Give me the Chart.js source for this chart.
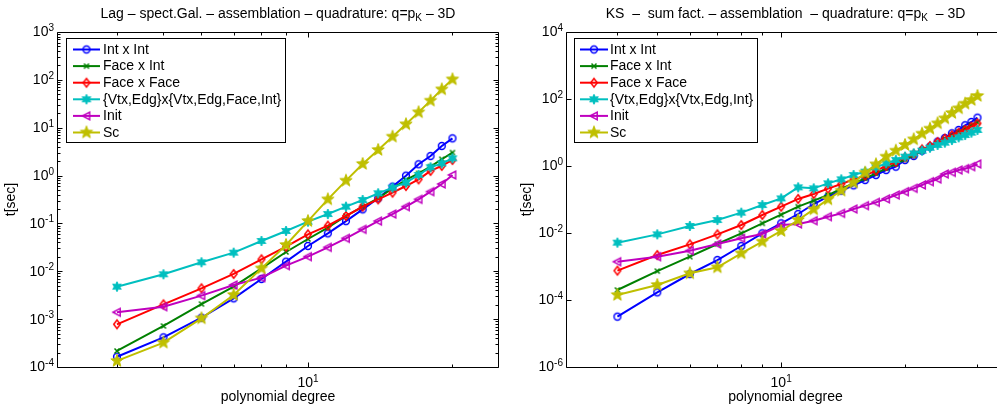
<!DOCTYPE html>
<html><head><meta charset="utf-8">
<script src="https://cdn.jsdelivr.net/npm/chart.js@4/dist/chart.umd.min.js"></script>
<style>
html,body{margin:0;padding:0;background:#fff;overflow:hidden;width:997px;height:414px;position:relative;}
#c1{position:absolute;left:0;top:0;}
#c2{position:absolute;left:500px;top:0;}
</style></head><body>
<canvas id="c1" width="500" height="414" style="width:500px;height:414px"></canvas>
<canvas id="c2" width="510" height="414" style="width:510px;height:414px"></canvas>
<script>
// ---------- data: left chart (Lag – spect.Gal.) ----------
const lagDegrees = [4,5,6,7,8,9,10,11,12,13,14,15,16,17,18,19,20];
const lagIntInt   = [1.64e-4,4.17e-4,1.07e-3,2.72e-3,6.9e-3,0.0159,0.0338,0.0621,0.112,0.197,0.335,0.587,0.995,1.72,2.56,4.15,6.0];
const lagFaceInt  = [2.16e-4,7.2e-4,2.07e-3,4.8e-3,0.0115,0.0253,0.0473,0.0816,0.143,0.224,0.335,0.542,0.81,1.11,1.54,2.19,3.02];
const lagFaceFace = [7.8e-4,2.04e-3,4.41e-3,8.8e-3,0.0178,0.0327,0.0592,0.0899,0.143,0.224,0.319,0.44,0.605,0.835,1.25,1.59,2.12];
const lagVtxEdg   = [4.77e-3,8.65e-3,0.0154,0.0245,0.043,0.0695,0.109,0.157,0.224,0.309,0.426,0.559,0.711,1.03,1.49,1.8,2.29];
const lagInit     = [1.39e-3,1.82e-3,3.1e-3,5.18e-3,7.36e-3,0.0131,0.0202,0.0316,0.0488,0.0753,0.112,0.157,0.224,0.319,0.461,0.667,1.03];
const lagSc       = [1.34e-4,3.23e-4,1.04e-3,3.2e-3,0.0115,0.0355,0.112,0.319,0.783,1.75,3.43,6.5,11.8,21.0,36.8,63.4,102.6];
const lagLabels = ['Int x Int','Face x Int','Face x Face','{Vtx,Edg}x{Vtx,Edg,Face,Int}','Init','Sc'];

// ---------- data: right chart (KS – sum fact.) ----------
const ksDegrees = [4,5,6,7,8,9,10,11,12,13,14,15,16,17,18,19,20,21,22,23,24,25,26,27,28,29,30];
const ksIntInt   = [3.18e-5,1.69e-4,5.97e-4,1.56e-3,4.09e-3,9.77e-3,0.0194,0.0369,0.0734,0.121,0.184,0.265,0.382,0.538,0.759,0.955,1.51,1.99,2.87,3.78,5.32,6.85,9.44,11.9,16.4,20.6,27.7];
const ksFaceInt  = [1.99e-4,7.3e-4,1.96e-3,4.69e-3,9.77e-3,0.0194,0.0352,0.0611,0.0923,0.136,0.211,0.303,0.428,0.604,0.851,1.15,1.58,2.08,2.87,3.78,4.97,6.39,8.22,10.4,13.0,16.4,20.1];
const ksFaceFace = [7.5e-4,2.2e-3,4.59e-3,9.1e-3,0.0173,0.0345,0.0611,0.104,0.146,0.211,0.29,0.4,0.514,0.726,1.0,1.32,1.81,2.28,3.14,3.95,5.2,6.54,8.22,9.89,11.9,14.9,18.8];
const ksVtxEdg   = [5.14e-3,9.1e-3,0.0162,0.0244,0.0405,0.0685,0.108,0.231,0.215,0.303,0.4,0.538,0.677,0.912,1.2,1.51,1.9,2.39,2.87,3.52,4.24,4.97,5.97,7.17,8.42,9.89,11.9];
const ksInit     = [1.39e-3,1.96e-3,2.97e-3,4.69e-3,6.93e-3,9.33e-3,0.0173,0.0186,0.0233,0.0307,0.0386,0.052,0.0655,0.0822,0.104,0.136,0.171,0.215,0.271,0.34,0.409,0.577,0.647,0.759,0.832,0.955,1.15];
const ksSc       = [1.41e-4,2.81e-4,6.25e-4,9.45e-4,2.47e-3,5.51e-3,0.0115,0.0244,0.0508,0.101,0.184,0.318,0.632,1.12,1.9,2.87,4.24,6.25,9.23,13.0,18.8,26.5,38.2,52.6,72.6,93.3,123];
const ksLabels = ['Int x Int','Face x Int','Face x Face','{Vtx,Edg}x{Vtx,Edg,Int}','Init','Sc'];

// ---------- tick values ----------
const lagXTicks = [4,5,6,7,8,9,10,20];
const ksXTicks  = [4,5,6,7,8,9,10,20,30];
const lagYExps  = [-4,-3,-2,-1,0,1,2,3];
const ksYExps   = [-6,-4,-2,0,2,4];

// ---------- styles ----------
const FONT = '"Liberation Sans", Arial, Helvetica, sans-serif';
const STYLE = [
  {color:'#0000FF', marker:'circle'},
  {color:'#008000', marker:'x'},
  {color:'#FF0000', marker:'diamond'},
  {color:'#00BFBF', marker:'hexagram'},
  {color:'#BF00BF', marker:'triLeft'},
  {color:'#BFBF00', marker:'pentagram'}
];

function starPath(g, n, ro, ri) {
  for (let i = 0; i < 2*n; i++) {
    const r = i % 2 === 0 ? ro : ri;
    const a = -Math.PI/2 + i*Math.PI/n;
    const px = r*Math.cos(a), py = r*Math.sin(a);
    if (i === 0) g.moveTo(px, py); else g.lineTo(px, py);
  }
  g.closePath();
}
function makeMarker(kind, color) {
  const s = 18; const c = document.createElement('canvas'); c.width = s; c.height = s;
  const g = c.getContext('2d'); g.translate(s/2, s/2);
  g.strokeStyle = color; g.fillStyle = color; g.lineWidth = 1.5;
  g.beginPath();
  if (kind === 'circle') { g.arc(0,0,3.4,0,2*Math.PI); g.stroke(); }
  else if (kind === 'x') { g.moveTo(-2.5,-2.5); g.lineTo(2.5,2.5); g.moveTo(2.5,-2.5); g.lineTo(-2.5,2.5); g.stroke(); }
  else if (kind === 'diamond') { g.moveTo(0,-4.2); g.lineTo(3.3,0); g.lineTo(0,4.2); g.lineTo(-3.3,0); g.closePath(); g.stroke(); }
  else if (kind === 'triLeft') { g.moveTo(-4,0); g.lineTo(3.2,-3.8); g.lineTo(3.2,3.8); g.closePath(); g.stroke(); }
  else if (kind === 'hexagram') { starPath(g,6,5,2.6); g.fill(); g.lineWidth=1; g.stroke(); }
  else if (kind === 'pentagram') { starPath(g,5,6.5,2.7); g.fill(); g.lineWidth=1; g.stroke(); }
  return c;
}
const MARKERS = STYLE.map(s => makeMarker(s.marker, s.color));

function pts(deg, vals) { return deg.map((d,i) => ({x:d, y:vals[i]})); }
function makeDatasets(deg, seriesList, labels) {
  return seriesList.map((vals,i) => ({
    label: labels[i], data: pts(deg, vals),
    borderColor: STYLE[i].color, backgroundColor: STYLE[i].color,
    borderWidth: 2, pointStyle: MARKERS[i], pointRadius: 4, tension: 0,
    order: seriesList.length - 1 - i
  }));
}

function drawRich(ctx, segs, cx, y) {
  let total = 0;
  segs.forEach(s => { ctx.font = s.size+'px '+FONT; s.w = ctx.measureText(s.t).width; total += s.w; });
  let x = cx - total/2;
  ctx.textAlign = 'left'; ctx.textBaseline = 'alphabetic';
  segs.forEach(s => { ctx.font = s.size+'px '+FONT; ctx.fillText(s.t, x, y + (s.dy||0)); x += s.w; });
}
function powLabel(ctx, exp, x, y, align) {
  ctx.font = '14px '+FONT; const w1 = ctx.measureText('10').width;
  ctx.font = '10px '+FONT; const w2 = ctx.measureText(String(exp)).width;
  let x0 = align === 'right' ? x - w1 - w2 : x - (w1+w2)/2;
  ctx.textAlign = 'left';
  ctx.font = '14px '+FONT; ctx.textBaseline = 'middle'; ctx.fillText('10', x0, y+0.5);
  ctx.font = '10px '+FONT; ctx.textBaseline = 'alphabetic'; ctx.fillText(String(exp), x0 + w1, y - 1);
}

function matlabPlugin(cfg) {
  return {
    id: 'matlabAxes',
    afterDraw(chart) {
      const ctx = chart.ctx, a = chart.chartArea, xs = chart.scales.x, ys = chart.scales.y;
      ctx.save();
      ctx.fillStyle = '#000'; ctx.strokeStyle = '#000'; ctx.lineWidth = 1;
      const L = Math.round(a.left)+0.5, R = Math.round(a.right)-0.5, T = Math.round(a.top)+0.5, B = Math.round(a.bottom)+0.5;
      ctx.beginPath();
      ctx.moveTo(L,T); ctx.lineTo(R,T); ctx.lineTo(R,B); ctx.lineTo(L,B); ctx.closePath();
      ctx.stroke();
      // x ticks
      ctx.beginPath();
      cfg.xTicks.forEach(v => {
        const px = Math.round(xs.getPixelForValue(v))+0.5;
        const len = (v === 10) ? 5 : 3;
        ctx.moveTo(px, B); ctx.lineTo(px, B-len);
        ctx.moveTo(px, T); ctx.lineTo(px, T+len);
      });
      // y ticks
      cfg.yExps.forEach(e => {
        const py = Math.round(ys.getPixelForValue(Math.pow(10,e)))+0.5;
        ctx.moveTo(L, py); ctx.lineTo(L+5, py);
        ctx.moveTo(R, py); ctx.lineTo(R-5, py);
        if (cfg.yMinor && e < cfg.yExps[cfg.yExps.length-1]) {
          for (let k = 2; k <= 9; k++) {
            const pm = Math.round(ys.getPixelForValue(k*Math.pow(10,e)))+0.5;
            ctx.moveTo(L, pm); ctx.lineTo(L+3, pm);
            ctx.moveTo(R, pm); ctx.lineTo(R-3, pm);
          }
        }
      });
      ctx.stroke();
      // tick labels
      cfg.yExps.forEach(e => powLabel(ctx, e, a.left - 3, ys.getPixelForValue(Math.pow(10,e)), 'right'));
      powLabel(ctx, 1, xs.getPixelForValue(10), 383, 'center');
      // axis titles
      ctx.font = '14px '+FONT; ctx.textAlign = 'center'; ctx.textBaseline = 'middle';
      ctx.fillText('polynomial degree', (a.left+a.right)/2, 397);
      ctx.save(); ctx.translate(cfg.yTitleX, (a.top+a.bottom)/2); ctx.rotate(-Math.PI/2);
      ctx.fillText('t[sec]', 0, 0); ctx.restore();
      // title
      drawRich(ctx, cfg.title, (a.left+a.right)/2, 18);
      // legend
      const lg = cfg.legend;
      ctx.fillStyle = '#fff'; ctx.fillRect(lg.x, lg.y, lg.w, lg.h);
      ctx.strokeStyle = '#000'; ctx.lineWidth = 1; ctx.strokeRect(lg.x+0.5, lg.y+0.5, lg.w, lg.h);
      chart.data.datasets.forEach((ds,i) => {
        const ry = lg.row0 + i*lg.step;
        ctx.strokeStyle = ds.borderColor; ctx.lineWidth = 2;
        ctx.beginPath(); ctx.moveTo(lg.lx0, ry); ctx.lineTo(lg.lx1, ry); ctx.stroke();
        const m = ds.pointStyle; const mx = (lg.lx0+lg.lx1)/2;
        ctx.drawImage(m, mx - m.width/2, ry - m.height/2);
        ctx.fillStyle = '#000'; ctx.font = '14px '+FONT; ctx.textAlign = 'left'; ctx.textBaseline = 'middle';
        ctx.fillText(ds.label, lg.tx, ry+0.5);
      });
      ctx.restore();
    }
  };
}

function makeChart(id, datasets, xmin, xmax, ymin, ymax, padding, cfg) {
  return new Chart(document.getElementById(id), {
    type: 'line',
    data: { datasets },
    options: {
      responsive: false, animation: false, devicePixelRatio: 1,
      layout: { padding, autoPadding: false },
      plugins: { legend: {display:false}, tooltip: {enabled:false}, title: {display:false} },
      scales: {
        x: { type:'logarithmic', min:xmin, max:xmax, display:false, bounds:'data' },
        y: { type:'logarithmic', min:ymin, max:ymax, display:false, bounds:'data' }
      }
    },
    plugins: [matlabPlugin(cfg)]
  });
}

makeChart('c1',
  makeDatasets(lagDegrees, [lagIntInt, lagFaceInt, lagFaceFace, lagVtxEdg, lagInit, lagSc], lagLabels),
  3, 25, 1e-4, 1e3,
  {left:57, right:1, top:32, bottom:47},
  { xTicks: lagXTicks, yExps: lagYExps, yMinor: true, yTitleX: 11,
    title: [{t:'Lag – spect.Gal. – assemblation – quadrature: q=p', size:14},{t:'K', size:10, dy:3},{t:' – 3D', size:14}],
    legend: {x:66, y:38, w:219, h:104, row0:49.5, step:16.6, lx0:73, lx1:100, tx:103} });

makeChart('c2',
  makeDatasets(ksDegrees, [ksIntInt, ksFaceInt, ksFaceFace, ksVtxEdg, ksInit, ksSc], ksLabels),
  3, 35, 1e-6, 1e4,
  {left:66, right:5, top:32, bottom:47},
  { xTicks: ksXTicks, yExps: ksYExps, yMinor: false, yTitleX: 27,
    title: [{t:'KS  –  sum fact. – assemblation  – quadrature: q=p', size:14},{t:'K', size:10, dy:3},{t:'  – 3D', size:14}],
    legend: {x:74, y:38, w:183, h:104, row0:49.5, step:16.6, lx0:80, lx1:108, tx:110} });
</script>
</body></html>
